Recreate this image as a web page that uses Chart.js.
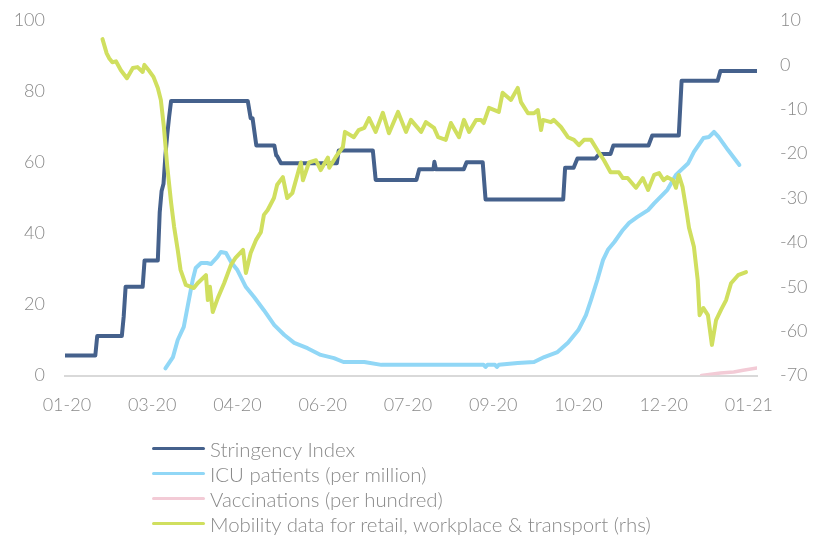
<!DOCTYPE html>
<html>
<head>
<meta charset="utf-8">
<script src="https://cdn.jsdelivr.net/npm/chart.js@4/dist/chart.umd.min.js"></script>
<style>
  html, body { margin: 0; padding: 0; background: #ffffff; }
  #wrap { position: relative; width: 816px; height: 536px; }
  #c { position: absolute; left: 0; top: 0; }
  #legend { position: absolute; left: 152px; top: 436px; font-family: Lato, "Open Sans", sans-serif; font-weight: 300; font-size: 20.4px; color: #8a8a8a; }
  .row { display: flex; align-items: center; height: 25px; white-space: nowrap; }
  .sw { width: 53px; height: 3.5px; border-radius: 2px; margin-right: 5px; }
</style>
</head>
<body>
<div id="wrap">
  <canvas id="c" width="816" height="536"></canvas>
  <div id="legend"></div>
</div>
<script>
// Days counted from 22 Jan 2020
const tickDays = [0, 45, 90, 135, 180, 225, 270, 315, 360];
const leftTicks = [0, 20, 40, 60, 80, 100];
const rightTicks = [-70, -60, -50, -40, -30, -20, -10, 0, 10];

const stringencyDays = [-1,15,16,29,30,31,40,41,48,49,50,51,52,53,54,55,95.5,97,98,100,109.5,110.5,111,113,142.5,143.5,161.5,163,184.5,186,193.5,194,194.8,209.5,211,219.5,221,262,263,267.5,269.5,279,281,287,288.5,307,309,323,324.5,343.5,345,364.3];
const stringencyIndex = [5.6,5.6,11.1,11.1,16.7,25,25,32.4,32.4,46,52,54,62,68,73,77.3,77.3,72.5,72.5,64.8,64.8,62,61.8,59.8,59.8,63.4,63.4,55.1,55.1,58.1,58.1,60.2,58.1,58.1,60.1,60.1,49.6,49.6,58.5,58.5,61.1,61.1,62.4,62.4,64.8,64.8,67.6,67.6,83,83,85.8,85.8];

const icuDays = [52,56,58.5,61.7,63.7,66.4,68,70.8,74,76,79.5,81.3,84,86.6,90,94.5,98.8,104,109.5,114.8,120,127,134,141,146,157,166,181.6,220,221,222,226,227,228,238,246.6,252,259,264.5,270,274,276.7,280,283,285.6,289,293.5,296.8,301,306.8,310,317,321.5,328,331,336,339,341.6,344,349,355];
const icuPatients = [2,5.2,10,13.7,19.3,26.9,30.3,31.7,31.7,31.4,33.4,34.8,34.5,32,29.7,24.9,22.1,18.4,14.2,11.4,9.2,7.7,5.8,4.9,3.8,3.8,3,3,3,2.4,3,3,2.4,3,3.5,3.8,5.2,6.6,9.2,12.8,17,21.3,26.9,32.5,35.4,37.6,41,43,44.6,46.6,48.5,52.3,56.5,59.8,63,66.9,67.2,68.6,67.2,63.5,59.3];

const vaccDays = [335,345,352,357,364.3];
const vaccinations = [0,0.7,1.0,1.5,2.1];

const mobilityDays = [18.8,21,22.3,24,25.9,28.5,31.7,34.8,37.3,40,40.9,43.5,45.7,48,49.6,51.2,53,55,56.6,58.5,60,62.8,67,69,73.4,74.4,75.5,77,79.7,83,86.6,89,93,94.5,97,99.8,102.4,104,106,109.3,111,114,116.3,119,123.5,124.6,127.8,131.5,134,137.8,138.5,142,145.7,146.8,151.5,154,157,159.5,163,166.8,170,174.8,179,181.6,187,189.5,193.8,196,200,202.7,207,209.6,212.3,216,218.6,220,222.8,228,230,234.4,238,239.7,243.4,246.6,248.6,250.3,251.3,255.5,257,260.8,264.5,267.7,270.3,273,276.7,280,283.5,287,289,291.4,293.5,296,300.4,304,306.8,310,312.6,315,317,320,321.5,323,325,327,328.4,331,333,334,336,338.4,340.5,342.7,345.3,348,350.6,354.3,358.5];
const mobility = [5.8,2.6,1.5,0.6,0.8,-1.2,-3,-0.7,-0.5,-1.6,0,-1.4,-2.7,-5.2,-7.9,-14,-23,-31,-36.5,-41.7,-46.2,-49.6,-50.3,-49.2,-47.4,-53,-50,-55.7,-52.5,-49.2,-45.1,-43.5,-41.7,-46.9,-42.4,-39.5,-37.7,-33.8,-32.7,-30,-27,-25.3,-30,-28.9,-22,-26,-22,-21.5,-23.7,-20.9,-23.2,-20.7,-18.5,-15.1,-16.3,-14.7,-14.2,-12,-15.1,-10.8,-15.4,-10.6,-15.1,-12.4,-15.1,-12.9,-14.2,-16.3,-16.9,-13.1,-16.3,-12.4,-15.1,-12.4,-12.4,-13.1,-9.7,-10.6,-6.3,-7.9,-5.2,-8.4,-10.9,-10.9,-10.2,-14.7,-12.4,-12.9,-12.4,-14,-16.3,-16.9,-18.1,-16.9,-16.9,-19.2,-21.5,-24.2,-24.2,-24.2,-25.5,-25.5,-27.7,-25.5,-28.2,-24.8,-24.4,-26,-25.3,-26,-27.7,-24.8,-27.5,-32.7,-36.7,-41,-48.5,-56.4,-54.8,-56.4,-63.1,-57.5,-55.2,-53,-49.2,-47.4,-46.7];

const seriesNames = ["Stringency Index", "ICU patients (per million)", "Vaccinations (per hundred)", "Mobility data for retail, workplace & transport (rhs)"];
const seriesColors = ["#45618c", "#91d7f6", "#f3cbd6", "#d0df5f"];

const pts = (xs, ys) => xs.map((x, i) => ({ x: x, y: ys[i] }));
const fmtDay = d => {
  const dt = new Date(2020, 0, 22 + d);
  const m = String(dt.getMonth() + 1).padStart(2, "0");
  const y = String(dt.getFullYear()).slice(2);
  return m + "-" + y;
};

const tickFont = { family: "Lato, 'Open Sans', sans-serif", size: 18, weight: 300 };
const textColor = "#8a8a8a";
const fitY = w => s => { s.width = w; s.paddingTop = 0; s.paddingBottom = 0; };

new Chart(document.getElementById("c"), {
  type: "line",
  data: {
    datasets: [
      { label: seriesNames[0], data: pts(stringencyDays, stringencyIndex), borderColor: seriesColors[0], borderWidth: 4, yAxisID: "y", order: 3 },
      { label: seriesNames[1], data: pts(icuDays, icuPatients), borderColor: seriesColors[1], borderWidth: 4, yAxisID: "y", order: 2 },
      { label: seriesNames[2], data: pts(vaccDays, vaccinations), borderColor: seriesColors[2], borderWidth: 3.5, yAxisID: "y", order: 1 },
      { label: seriesNames[3], data: pts(mobilityDays, mobility), borderColor: seriesColors[3], borderWidth: 4, yAxisID: "y1", order: 0 }
    ]
  },
  options: {
    responsive: false,
    animation: false,
    elements: { point: { radius: 0 }, line: { tension: 0, borderCapStyle: "round", borderJoinStyle: "round", fill: false } },
    layout: { padding: { top: 20.5, left: 0, right: 0, bottom: 0 } },
    plugins: { legend: { display: false }, tooltip: { enabled: false } },
    scales: {
      x: {
        type: "linear",
        min: -1,
        max: 364.3,
        afterBuildTicks: s => { s.ticks = tickDays.map(v => ({ value: v })); },
        afterFit: s => { s.height = 160.5; },
        grid: { display: false, drawTicks: false },
        border: { display: true, color: "#d9d9d9", width: 2 },
        ticks: { callback: v => fmtDay(v), font: tickFont, color: textColor, padding: 19, maxRotation: 0, autoSkip: false }
      },
      y: {
        position: "left",
        min: 0,
        max: 100,
        afterBuildTicks: s => { s.ticks = leftTicks.map(v => ({ value: v })); },
        afterFit: fitY(65),
        grid: { display: false, drawTicks: false },
        border: { display: false },
        ticks: { font: tickFont, color: textColor, padding: 20 }
      },
      y1: {
        position: "right",
        min: -70,
        max: 10,
        afterBuildTicks: s => { s.ticks = rightTicks.map(v => ({ value: v })); },
        afterFit: fitY(59),
        grid: { display: false, drawTicks: false },
        border: { display: false },
        ticks: { font: tickFont, color: textColor, padding: 23 }
      }
    }
  }
});

const legend = document.getElementById("legend");
seriesNames.forEach((n, i) => {
  const row = document.createElement("div");
  row.className = "row";
  const sw = document.createElement("div");
  sw.className = "sw";
  sw.style.background = seriesColors[i];
  const t = document.createElement("span");
  t.textContent = n;
  row.appendChild(sw);
  row.appendChild(t);
  legend.appendChild(row);
});
</script>
</body>
</html>
